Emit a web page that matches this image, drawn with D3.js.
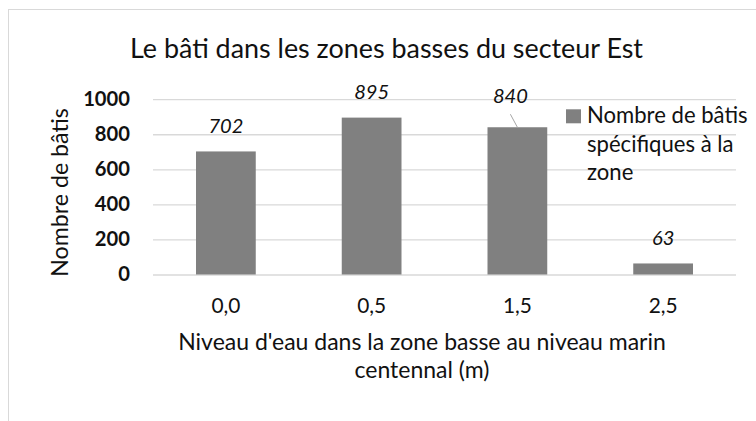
<!DOCTYPE html>
<html><head><meta charset="utf-8">
<script src="https://cdn.jsdelivr.net/npm/d3@7"></script>
<style>body{margin:0;background:#fff} svg{display:block}</style>
</head><body>
<script>
// Data
const categories = ["0,0", "0,5", "1,5", "2,5"];
const counts = [702, 895, 840, 63];
const yTicks = [0, 200, 400, 600, 800, 1000];
const legendLines = ["Nombre de bâtis", "spécifiques à la", "zone"];
const titleText = "Le bâti dans les zones basses du secteur Est";
const xTitleLines = ["Niveau d'eau dans la zone basse au niveau marin", "centennal (m)"];
const yTitleText = "Nombre de bâtis";

const W = 756, H = 421;
const FONT = "Lato, sans-serif";
const INK = "#111";
const BAR = "#808080";
const GRID = "#d9d9d9";

const svg = d3.select("body").append("svg").attr("width", W).attr("height", H)
  .style("font-family", FONT);

// outer frame of the chart area
svg.append("rect").attr("x", 8.5).attr("y", 9.5).attr("width", W).attr("height", H)
  .attr("fill", "none").attr("stroke", GRID);

const plot = {left: 153, right: 736, top: 99.2, bottom: 274.5};
const x = d3.scaleBand().domain(categories).range([plot.left, plot.right])
  .paddingInner(0.59).paddingOuter(0.295);
const y = d3.scaleLinear().domain([0, 1000]).range([plot.bottom, plot.top]);

// gridlines + y tick labels
const yAxis = svg.append("g").attr("transform", `translate(${plot.left},0)`)
  .call(d3.axisLeft(y).tickValues(yTicks).tickFormat(d3.format("d"))
    .tickSize(-(plot.right - plot.left)).tickPadding(23));
yAxis.select(".domain").remove();
yAxis.selectAll(".tick line").attr("stroke", GRID).attr("stroke-width", 1.3);
yAxis.selectAll(".tick text").attr("fill", INK).attr("font-weight", "bold")
  .attr("font-family", FONT).attr("font-size", 20.2);

// bars
svg.append("g").selectAll("rect").data(counts).join("rect")
  .attr("x", (d, i) => x(categories[i]))
  .attr("width", x.bandwidth())
  .attr("y", d => y(d))
  .attr("height", d => y(0) - y(d))
  .attr("fill", BAR);

// x tick labels
const xAxis = svg.append("g").attr("transform", `translate(0,${plot.bottom})`)
  .call(d3.axisBottom(x).tickSize(0));
xAxis.select(".domain").remove();
xAxis.selectAll(".tick text").attr("fill", INK).attr("font-family", FONT)
  .attr("font-size", 20.9).attr("dy", null).attr("y", 38.5);

// value labels; the third label sits offset with a leader line to its bar
const labelShift = [[0, 0], [0, 0], [-7, -5.5], [0, 0]];
const labelY = (d, i) => y(d) - 18.5 + labelShift[i][1];
svg.append("g").selectAll("text").data(counts).join("text")
  .attr("x", (d, i) => x(categories[i]) + x.bandwidth() / 2 + labelShift[i][0])
  .attr("y", labelY)
  .attr("text-anchor", "middle").attr("font-style", "italic")
  .attr("fill", INK).attr("font-size", 20.1)
  .text(d => d);
svg.append("g").selectAll("line")
  .data(counts.map((d, i) => ({d, i})).filter(o => labelShift[o.i][0] !== 0))
  .join("line")
  .attr("x1", o => x(categories[o.i]) + x.bandwidth() / 2 + labelShift[o.i][0])
  .attr("y1", o => labelY(o.d, o.i) + 11)
  .attr("x2", o => x(categories[o.i]) + x.bandwidth() / 2)
  .attr("y2", o => y(o.d))
  .attr("stroke", "#a6a6a6").attr("stroke-width", 1);

// title
svg.append("text").attr("x", 386.5).attr("y", 57.7).attr("text-anchor", "middle")
  .attr("fill", INK).attr("font-size", 26.9).text(titleText);

// x axis title
svg.append("g").selectAll("text").data(xTitleLines).join("text")
  .attr("x", 422).attr("y", (d, i) => 350 + i * 27.7).attr("text-anchor", "middle")
  .attr("fill", INK).attr("font-size", 23).text(d => d);

// y axis title
svg.append("text").attr("transform", "translate(68,192.5) rotate(-90)")
  .attr("text-anchor", "middle").attr("fill", INK).attr("font-size", 23.2).text(yTitleText);

// legend
const lg = svg.append("g");
lg.append("rect").attr("x", 566).attr("y", 109.3).attr("width", 15).attr("height", 14).attr("fill", BAR);
lg.selectAll("text").data(legendLines).join("text")
  .attr("x", 587).attr("y", (d, i) => 123.3 + i * 28.35)
  .attr("fill", INK).attr("font-size", 22.1).text(d => d);
</script>
</body></html>
